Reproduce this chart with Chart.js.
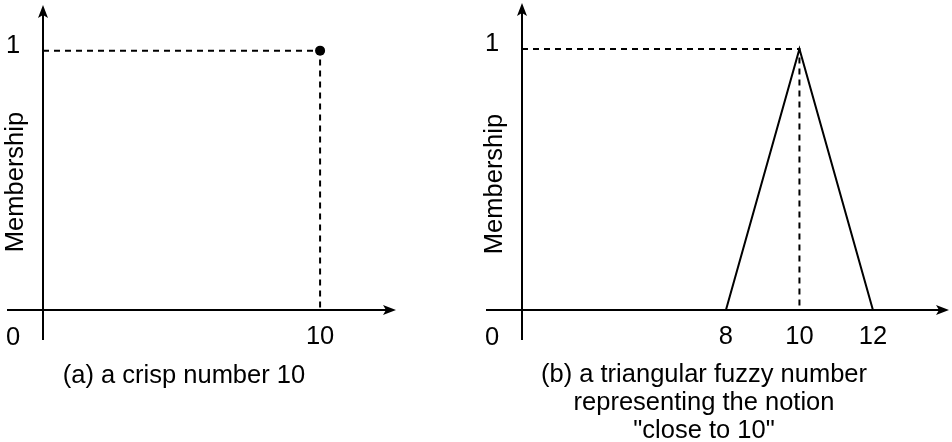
<!DOCTYPE html>
<html>
<head>
<meta charset="utf-8">
<script src="https://cdn.jsdelivr.net/npm/chart.js@4.4.1/dist/chart.umd.min.js"></script>
<style>
  body { margin: 0; background: #fff; }
  .panel { position: absolute; top: 0; }
</style>
</head>
<body>
<canvas id="crispChart" class="panel" width="476" height="442" style="left:0"></canvas>
<canvas id="fuzzyChart" class="panel" width="476" height="442" style="left:476px"></canvas>
<script>
// data
const crispX = [10];
const crispY = [1];
const fuzzyX = [8, 10, 12];
const fuzzyY = [0, 1, 0];
const guideX = [10, 10];      // dashed guide from the peak down to the axis
const guideY = [1, 0];
const ticksA = [10];
const ticksB = [8, 10, 12];
const rangeAX = [0, 12.74];
const rangeBX = [2.45, 14.07];
const rangeY = [0, 1.176];

const FONT = 'Liberation Sans, Arial, sans-serif';
const FS = 25.5;

const toPoints = (xs, ys) => xs.map((x, i) => ({ x: x, y: ys[i] }));

// guide line starts at the y axis (left end of the x range)
function guideData(xMin) {
  return toPoints([xMin].concat(guideX), [1].concat(guideY));
}

function arrow(ctx, x, y, dir) {
  // dir: 'up' or 'right', tip at (x, y)
  ctx.beginPath();
  if (dir === 'up') {
    ctx.moveTo(x, y);
    ctx.lineTo(x + 5, y + 13);
    ctx.lineTo(x, y + 10);
    ctx.lineTo(x - 5, y + 13);
  } else {
    ctx.moveTo(x, y);
    ctx.lineTo(x - 13, y - 5);
    ctx.lineTo(x - 10, y);
    ctx.lineTo(x - 13, y + 5);
  }
  ctx.closePath();
  ctx.fill();
}

// axes with arrows and the free labels around them
function axesPlugin(cfg) {
  return {
    id: 'arrowAxes',
    afterDraw(chart) {
      const ctx = chart.ctx;
      const area = chart.chartArea;
      const yScale = chart.scales.y;
      const y0 = yScale.getPixelForValue(0);
      const y1 = yScale.getPixelForValue(1);
      ctx.save();
      ctx.strokeStyle = '#000';
      ctx.fillStyle = '#000';
      ctx.lineWidth = 2;

      ctx.beginPath();
      ctx.moveTo(area.left - 36, y0);
      ctx.lineTo(area.right - 8, y0);
      ctx.moveTo(area.left, y0 + 30);
      ctx.lineTo(area.left, area.top + 8);
      ctx.stroke();
      arrow(ctx, area.right, y0, 'right');
      arrow(ctx, area.left, area.top, 'up');

      ctx.font = FS + 'px ' + FONT;
      ctx.textAlign = 'center';
      ctx.textBaseline = 'middle';
      ctx.fillText('1', area.left - 30, y1 - 5);
      ctx.fillText('0', area.left - 30, y0 + 28);

      cfg.caption.forEach((line, i) => {
        ctx.fillText(line, cfg.captionX, cfg.captionY + i * 28);
      });

      ctx.translate(area.left - 27, cfg.titleY);
      ctx.rotate(-Math.PI / 2);
      ctx.fillText('Membership', 0, 0);
      ctx.restore();
    }
  };
}

function makeOptions(xRange, tickVals, padLeft, padRight) {
  return {
    responsive: false,
    animation: false,
    layout: { padding: { left: padLeft, right: padRight, top: 3, bottom: 92 } },
    plugins: { legend: { display: false }, tooltip: { enabled: false } },
    scales: {
      x: {
        type: 'linear',
        min: xRange[0],
        max: xRange[1],
        afterBuildTicks: s => { s.ticks = tickVals.map(v => ({ value: v })); },
        afterFit: s => { s.height = 40; },
        grid: { display: false, drawTicks: false },
        border: { display: false },
        ticks: {
          padding: 12,
          color: '#000',
          autoSkip: false,
          maxRotation: 0,
          font: { family: FONT, size: FS },
          callback: v => String(v)
        }
      },
      y: {
        type: 'linear',
        display: false,
        min: rangeY[0],
        max: rangeY[1]
      }
    }
  };
}

new Chart(document.getElementById('crispChart'), {
  type: 'scatter',
  data: {
    datasets: [
      {
        data: guideData(rangeAX[0]),
        showLine: true,
        borderColor: '#000',
        borderWidth: 2,
        borderDash: [6, 5],
        pointRadius: 0
      },
      {
        data: toPoints(crispX, crispY),
        pointRadius: 5,
        pointBackgroundColor: '#000',
        pointBorderColor: '#000',
        pointBorderWidth: 0
      }
    ]
  },
  options: makeOptions(rangeAX, ticksA, 43, 80),
  plugins: [axesPlugin({
    caption: ['(a) a crisp number 10'],
    captionX: 184, captionY: 376, titleY: 182
  })]
});

new Chart(document.getElementById('fuzzyChart'), {
  type: 'scatter',
  data: {
    datasets: [
      {
        data: toPoints(fuzzyX, fuzzyY),
        showLine: true,
        borderColor: '#000',
        borderWidth: 2,
        pointRadius: 0,
        tension: 0
      },
      {
        data: guideData(rangeBX[0]),
        showLine: true,
        borderColor: '#000',
        borderWidth: 2,
        borderDash: [6, 5],
        pointRadius: 0
      }
    ]
  },
  options: makeOptions(rangeBX, ticksB, 46, 3),
  plugins: [axesPlugin({
    caption: ['(b) a triangular fuzzy number', 'representing the notion', '"close to 10"'],
    captionX: 228, captionY: 375, titleY: 184
  })]
});
</script>
</body>
</html>
